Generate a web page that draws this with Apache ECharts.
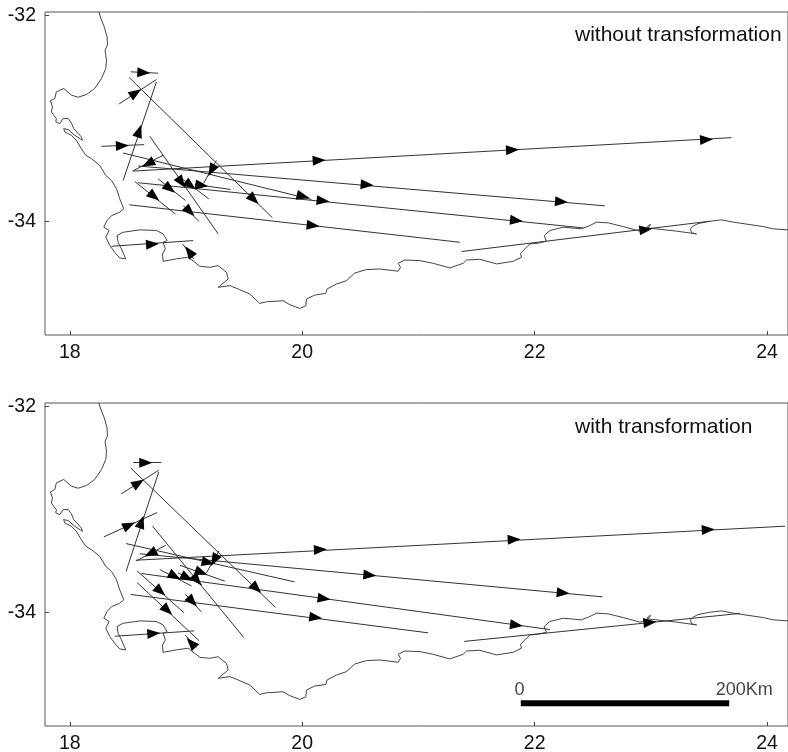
<!DOCTYPE html>
<html><head><meta charset="utf-8">
<style>html,body{margin:0;padding:0;background:#fff}#c{width:788px;height:752px}</style>
<script src="https://cdn.jsdelivr.net/npm/echarts@6/dist/echarts.min.js"></script>
</head><body><div id="c"></div>
<script>
const xTicks = [18, 20, 22, 24];
const yTicks = [-32, -34];
const panelNotes = ['without transformation', 'with transformation'];
const scaleBar = [[21.881, -34.879], [23.674, -34.879]];
const scaleLabels = [[21.87, -34.755, '0'], [23.803, -34.755, '200Km']];

const coast = [[18.25,-31.969],[18.273,-32.046],[18.296,-32.111],[18.321,-32.209],[18.324,-32.29],[18.304,-32.339],[18.316,-32.435],[18.31,-32.516],[18.273,-32.614],[18.215,-32.71],[18.144,-32.769],[18.072,-32.795],[18.014,-32.775],[17.948,-32.71],[17.885,-32.743],[17.871,-32.808],[17.834,-32.83],[17.851,-32.889],[17.842,-32.938],[17.862,-32.97],[17.885,-33.002],[17.88,-33.034],[17.914,-33.051],[17.943,-33.002],[17.986,-33.002],[18.014,-33.044],[18.034,-33.099],[18.1,-33.18],[18.109,-33.213],[18.043,-33.164],[17.986,-33.109],[17.948,-33.099],[17.957,-33.132],[18.014,-33.164],[18.057,-33.213],[18.1,-33.294],[18.138,-33.358],[18.187,-33.391],[18.258,-33.456],[18.31,-33.553],[18.359,-33.602],[18.402,-33.682],[18.43,-33.78],[18.465,-33.877],[18.43,-33.91],[18.359,-33.943],[18.321,-33.99],[18.293,-34.054],[18.339,-34.087],[18.31,-34.152],[18.344,-34.232],[18.387,-34.298],[18.43,-34.353],[18.482,-34.362],[18.445,-34.266],[18.416,-34.201],[18.407,-34.136],[18.459,-34.104],[18.603,-34.081],[18.746,-34.087],[18.803,-34.12],[18.838,-34.185],[18.803,-34.201],[18.823,-34.266],[18.798,-34.314],[18.803,-34.386],[18.918,-34.362],[19.019,-34.346],[19.076,-34.395],[19.119,-34.434],[19.205,-34.444],[19.277,-34.428],[19.349,-34.493],[19.363,-34.557],[19.277,-34.638],[19.377,-34.621],[19.449,-34.654],[19.549,-34.703],[19.635,-34.794],[19.693,-34.778],[19.836,-34.768],[19.893,-34.806],[19.979,-34.842],[20.031,-34.817],[20.037,-34.751],[20.108,-34.713],[20.203,-34.697],[20.214,-34.654],[20.295,-34.606],[20.381,-34.573],[20.453,-34.499],[20.553,-34.466],[20.668,-34.46],[20.826,-34.482],[20.846,-34.444],[20.826,-34.405],[20.883,-34.373],[21.012,-34.379],[21.127,-34.405],[21.27,-34.45],[21.385,-34.405],[21.414,-34.373],[21.528,-34.366],[21.672,-34.411],[21.815,-34.386],[21.887,-34.346],[21.878,-34.308],[21.916,-34.266],[21.959,-34.217],[22.031,-34.21],[22.102,-34.191],[22.082,-34.136],[22.131,-34.087],[22.246,-34.055],[22.403,-34.071],[22.475,-34.039],[22.533,-34.006],[22.633,-34.013],[22.762,-34.049],[22.906,-34.093],[22.963,-34.081],[22.977,-34.038],[22.998,-34.029],[22.977,-34.062],[23.043,-34.071],[23.221,-34.093],[23.393,-34.12],[23.35,-34.11],[23.341,-34.071],[23.363,-34.045],[23.406,-34.02],[23.508,-33.997],[23.608,-33.984],[23.709,-34.006],[23.967,-34.049],[24.053,-34.071],[24.18,-34.081]];

// each row: start lon, start lat, end lon, end lat, then arrowhead lon, lat pairs
const topVectors = [
 [18.525,-32.549,18.76,-32.562,18.637,-32.557],
 [18.425,-32.86,18.746,-32.623,18.568,-32.753],
 [18.459,-33.602,18.746,-32.646,18.597,-33.122],
 [18.511,-32.604,19.744,-33.964,19.584,-33.786],
 [19.262,-33.407,19.153,-33.627,19.219,-33.504],
 [18.273,-33.271,18.64,-33.255,18.453,-33.265],
 [18.689,-33.174,19.277,-34.12,18.961,-33.621],
 [18.459,-33.336,20.08,-33.786,20.008,-33.757],
 [18.545,-33.511,23.694,-33.187,20.146,-33.407,21.81,-33.306,23.479,-33.206],
 [18.588,-33.462,22.604,-33.848,20.559,-33.644,22.231,-33.809],
 [18.588,-33.624,22.418,-34.062,20.18,-33.799,21.844,-33.99],
 [18.511,-33.838,21.356,-34.201,20.094,-34.038],
 [18.559,-33.611,18.91,-33.929,18.726,-33.757],
 [18.76,-33.586,18.996,-33.796,18.861,-33.682],
 [18.947,-33.569,19.196,-33.78,19.039,-33.65],
 [18.803,-33.358,18.539,-33.511,18.674,-33.439],
 [18.359,-34.24,19.062,-34.185,18.712,-34.22],
 [19.067,-34.363,18.97,-34.217,19.027,-34.291],
 [18.976,-33.845,19.113,-34.0,19.033,-33.903],
 [19.076,-33.64,19.383,-33.689,19.136,-33.65],
 [21.371,-34.291,23.508,-33.997,22.957,-34.078]
];
const bottomVectors = [
 [18.545,-32.547,18.786,-32.547,18.654,-32.547],
 [18.442,-32.85,18.766,-32.621,18.591,-32.744],
 [18.485,-33.6,18.766,-32.637,18.617,-33.122],
 [18.525,-32.599,19.77,-33.951,19.607,-33.767],
 [19.283,-33.403,19.176,-33.616,19.242,-33.493],
 [18.293,-33.267,18.752,-33.031,18.511,-33.154],
 [18.712,-33.163,19.498,-34.243,19.096,-33.687],
 [18.485,-33.332,19.934,-33.703,19.191,-33.516],
 [18.568,-33.493,24.154,-33.163,20.157,-33.39,21.824,-33.292,23.494,-33.196],
 [18.602,-33.431,22.584,-33.848,20.582,-33.638,22.246,-33.809],
 [18.617,-33.622,22.131,-34.165,20.189,-33.864,21.844,-34.123],
 [18.525,-33.825,21.084,-34.197,20.117,-34.048],
 [18.58,-33.597,18.984,-34.003,18.78,-33.794],
 [18.58,-33.71,19.113,-34.274,18.841,-33.978],
 [18.775,-33.584,19.047,-33.742,18.904,-33.648],
 [18.932,-33.616,19.139,-33.729,19.01,-33.661],
 [18.826,-33.348,18.574,-33.499,18.694,-33.428],
 [18.387,-34.23,19.07,-34.178,18.723,-34.203],
 [19.09,-34.339,18.993,-34.219,19.044,-34.294],
 [18.996,-33.825,19.133,-33.994,19.056,-33.896],
 [18.947,-33.542,19.334,-33.696,19.133,-33.612],
 [21.394,-34.28,23.766,-34.009,22.992,-34.096]
];

const xMin = 17.787, xMax = 24.18, yMin = -35.1, yMax = -31.969;
const gridW = 743, gridH = 323;
const kx = gridW / (xMax - xMin), ky = gridH / (yMax - yMin);

function vectorSeries(rows, i) {
  const seg = rows.map(r => ({coords: [[r[0], r[1]], [r[2], r[3]]]}));
  const heads = [];
  rows.forEach(r => {
    const a = Math.atan2((r[3] - r[1]) * ky, (r[2] - r[0]) * kx) * 180 / Math.PI;
    for (let k = 4; k < r.length; k += 2) heads.push({value: [r[k], r[k + 1]], symbolRotate: a - 90});
  });
  return [
    {type: 'lines', coordinateSystem: 'cartesian2d', xAxisIndex: i, yAxisIndex: i, silent: true, z: 3,
     lineStyle: {color: '#333', width: 1, opacity: 1, curveness: 0}, data: seg},
    {type: 'scatter', xAxisIndex: i, yAxisIndex: i, silent: true, z: 4, symbol: 'triangle', symbolSize: [10, 13],
     itemStyle: {color: '#000', opacity: 1}, data: heads}
  ];
}
function coastSeries(i) {
  return {type: 'line', xAxisIndex: i, yAxisIndex: i, data: coast, showSymbol: false, silent: true, z: 2,
          lineStyle: {color: '#444', width: 1}};
}
const fontBase = {color: '#111', fontFamily: '"Liberation Sans", Arial, sans-serif', fontSize: 19.5};
const xAxisOf = i => ({type: 'value', gridIndex: i, min: xMin, max: xMax,
  axisLine: {show: false}, splitLine: {show: false}, axisTick: {show: true, inside: true, length: 4, customValues: xTicks, lineStyle: {color: '#444'}},
  axisLabel: Object.assign({margin: 8, customValues: xTicks, formatter: v => String(v)}, fontBase)});
const yAxisOf = i => ({type: 'value', gridIndex: i, min: yMin, max: yMax,
  axisLine: {show: false}, splitLine: {show: false}, axisTick: {show: true, inside: true, length: 4, customValues: yTicks, lineStyle: {color: '#444'}},
  axisLabel: Object.assign({margin: 9, customValues: yTicks, formatter: v => String(v)}, fontBase)});
const gridOf = top => ({left: 45, top: top, width: gridW, height: gridH, show: true, borderColor: '#555', borderWidth: 1, backgroundColor: 'transparent', containLabel: false, outerBoundsMode: 'none'});

const chart = echarts.init(document.getElementById('c'), null, {renderer: 'canvas'});
chart.setOption({
  animation: false,
  backgroundColor: '#fff',
  title: [
    {text: panelNotes[0], left: 575, top: 25, padding: 0, textStyle: Object.assign({}, fontBase, {fontSize: 21, fontWeight: 'normal'})},
    {text: panelNotes[1], left: 575, top: 417, padding: 0, textStyle: Object.assign({}, fontBase, {fontSize: 21, fontWeight: 'normal'})}
  ],
  grid: [gridOf(12), gridOf(403)],
  xAxis: [xAxisOf(0), xAxisOf(1)],
  yAxis: [yAxisOf(0), yAxisOf(1)],
  series: [
    coastSeries(0), ...vectorSeries(topVectors, 0),
    coastSeries(1), ...vectorSeries(bottomVectors, 1),
    {type: 'line', xAxisIndex: 1, yAxisIndex: 1, data: scaleBar, showSymbol: false, silent: true, z: 5, lineStyle: {color: '#000', width: 6, cap: 'butt'}},
    {type: 'scatter', xAxisIndex: 1, yAxisIndex: 1, symbolSize: 0, silent: true, z: 5, data: scaleLabels,
     label: Object.assign({show: true, position: 'inside', formatter: p => p.data[2]}, fontBase, {fontSize: 18})}
  ]
});
</script></body></html>
